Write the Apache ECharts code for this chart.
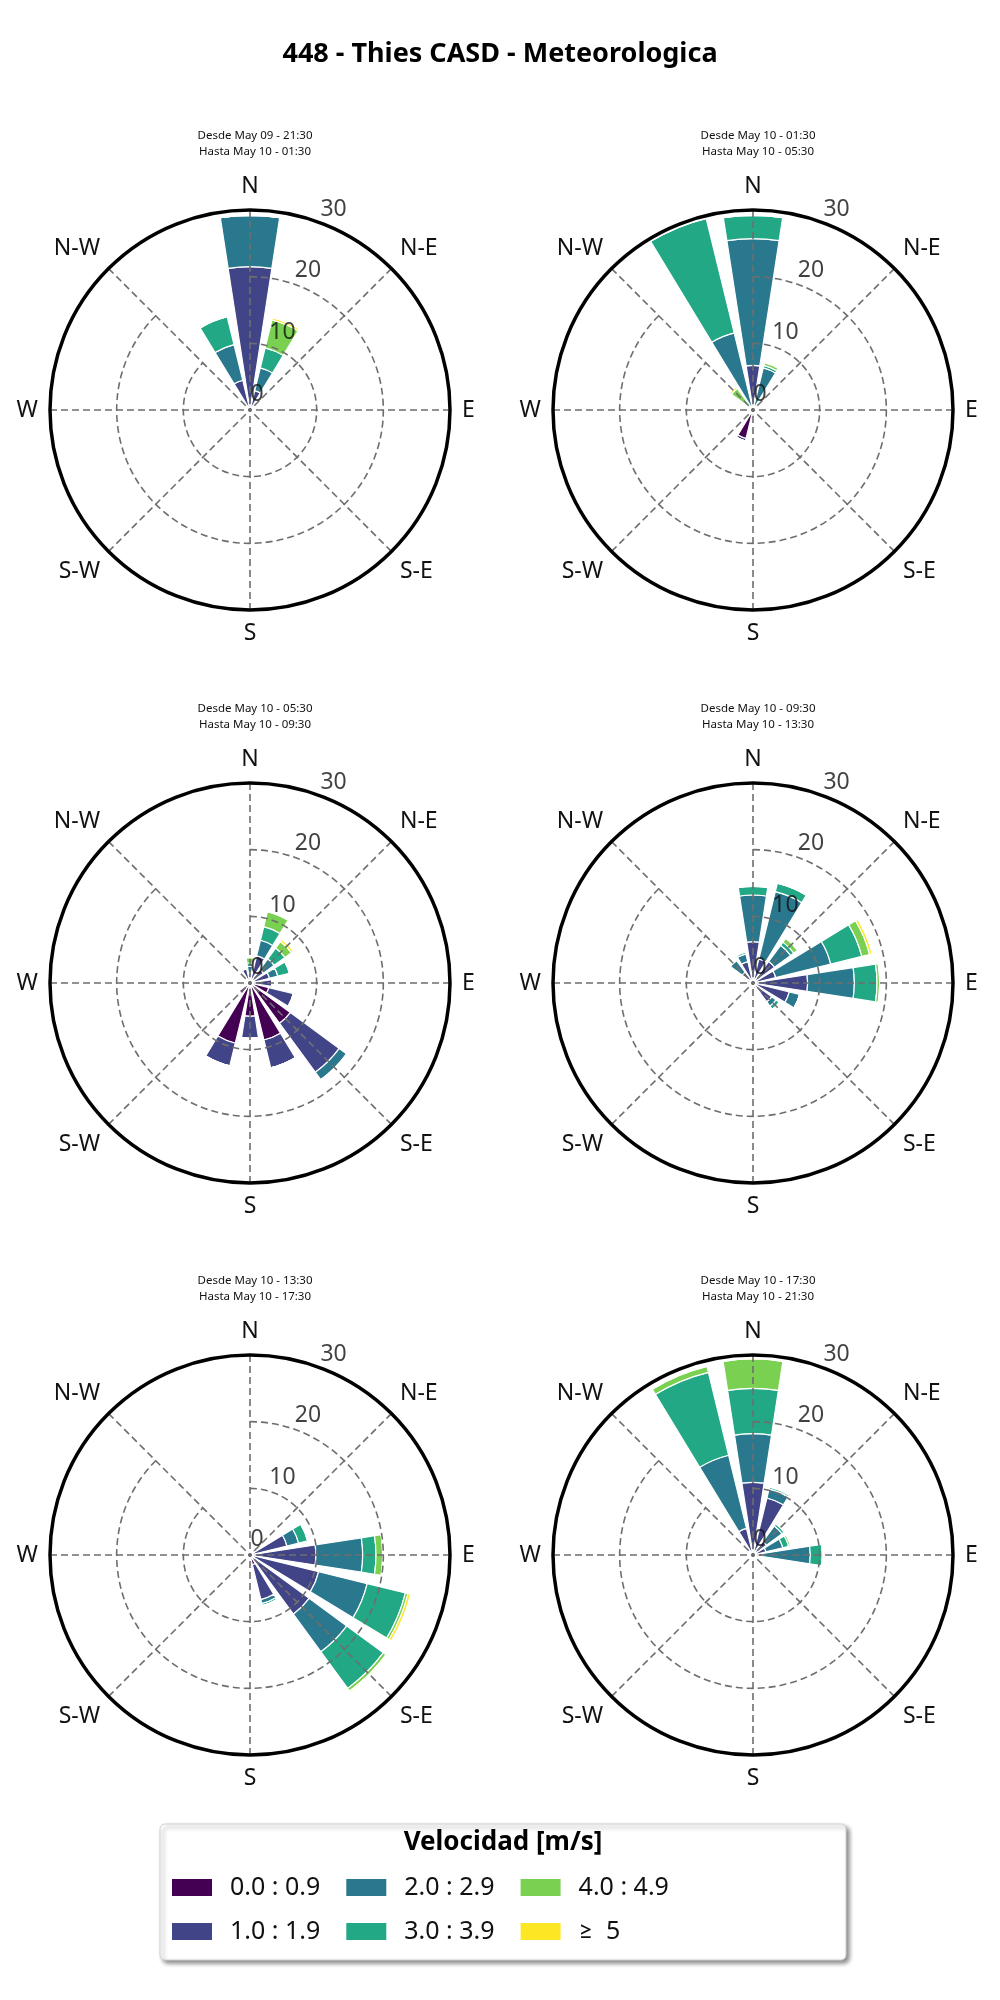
<!DOCTYPE html>
<html>
<head>
<meta charset="utf-8">
<script src="https://cdn.jsdelivr.net/npm/echarts@6/dist/echarts.min.js"></script>
<style>
  html, body { margin: 0; padding: 0; background: #fff; }
  #chart { width: 1000px; height: 2000px; }
</style>
</head>
<body>
<div id="chart"></div>
<script>
// direcciones (16 sectores) y rangos de velocidad
var dirs = ['N','NNE','NE','ENE','E','ESE','SE','SSE','S','SSW','SW','WSW','W','WNW','NW','NNW'];
var compass = ['N','N-E','E','S-E','S','S-W','W','N-W'];
var bins = ['0.0 : 0.9','1.0 : 1.9','2.0 : 2.9','3.0 : 3.9','4.0 : 4.9','\u2265  5'];
var binColors = ['#440154','#414487','#2a788e','#22a884','#7ad151','#fde725'];
var radiusTicks = [0, 10, 20, 30];

var subtitles = [
    'Desde May 09 - 21:30\nHasta May 10 - 01:30',
    'Desde May 10 - 01:30\nHasta May 10 - 05:30',
    'Desde May 10 - 05:30\nHasta May 10 - 09:30',
    'Desde May 10 - 09:30\nHasta May 10 - 13:30',
    'Desde May 10 - 13:30\nHasta May 10 - 17:30',
    'Desde May 10 - 17:30\nHasta May 10 - 21:30'
];

// frecuencia (%) por rango de velocidad, una fila por rango, 16 direcciones
//            N     NNE  NE   ENE  E    ESE  SE   SSE  S    SSW  SW   WSW  W    WNW  NW   NNW
var rose1 = [
    [0,    0,   0,   0,   0,   0,   0,   0,   0,   0,   0,   0,   0,   0,   0,   0],
    [21.5, 3,   0,   0,   0,   0,   0,   0,   0,   0,   0,   0,   0,   0,   0,   4.6],
    [7.7,  3.5, 0,   0,   0,   0,   0,   0,   0,   0,   0,   0,   0,   0,   0.4, 5.5],
    [0,    3.1, 0,   0,   0,   0,   0,   0,   0,   0,   0,   0,   0,   0,   0,   4.3],
    [0,    4.3, 0,   0,   0,   0,   0,   0,   0,   0,   0,   0,   0,   0,   0,   0],
    [0,    0.3, 0,   0,   0,   0,   0,   0,   0,   0,   0,   0,   0,   0,   0,   0]
];
var rose2 = [
    [0,    0,   0,   0,   0,   0,   0,   0,   1,   4.4, 0,   0,   0,   0,   0,   0],
    [6.7,  0.5, 0,   0,   0,   0,   0,   0,   0,   0.4, 0,   0,   0,   0,   0,   0],
    [19,   6,   0,   0,   0,   0,   0,   0,   0,   0,   0,   0,   0,   0,   0,   11.9],
    [3.5,  0.4, 0,   0,   0,   0,   0,   0,   0,   0,   0,   0,   0,   0,   0.5, 17.7],
    [0,    0.4, 0,   0,   0,   0,   0,   0,   0,   0,   0,   0,   0,   0,   3.5, 0],
    [0,    0,   0,   0,   0,   0,   0,   0,   0,   0,   0,   0,   0,   0,   0.3, 0]
];
var rose3 = [
    [0,    0,   0,   0,   0.5, 2.9, 7.5, 8.8, 5,   9.3, 2,   0,   0,   0,   0,   0],
    [1.5,  4.2, 2.5, 3,   2.8, 3.8, 9.1, 4.3, 3.3, 3.5, 0,   0,   0,   0,   0,   2.2],
    [1,    2.4, 2,   1.3, 0,   0,   1.4, 0,   0,   0,   0,   0,   0,   0,   0,   0],
    [0.5,  2.1, 2,   1.8, 0,   0,   0,   0,   0,   0,   0,   0,   0,   0,   0,   0],
    [0.8,  2.3, 1.2, 0,   0,   0,   0,   0,   0,   0,   0,   0,   0,   0,   0,   0],
    [0,    0,   0.4, 0,   0,   0,   0,   0,   0,   0,   0,   0,   0,   0,   0,   0]
];
var rose4 = [
    [0,    0,   0,   0,   0,   0,   0,   0,   0,   0,   0,   0,   0,   0,   0,   0],
    [6.2,  3.7, 4,   3.5, 8.2, 5.6, 3.5, 1,   0,   0,   0,   0,   0,   0,   2,   3.3],
    [7,    10.4,3,   8.5, 7,   1.6, 0.8, 0,   0,   0,   0,   0,   0,   1,   2.2, 1.2],
    [1.3,  1.3, 0.6, 4.8, 3.4, 0,   0.6, 0,   0,   0,   0,   0,   0,   0,   0,   0.3],
    [0,    0,   0.7, 1.2, 0.4, 0,   0,   0,   0,   0,   0,   0,   0,   0,   0,   0],
    [0,    0,   0,   0.4, 0,   0,   0,   0,   0,   0,   0,   0,   0,   0,   0,   0]
];
var rose5 = [
    [0,    0,   0,   0,   0,   0,   0,   1.5, 0,   0,   0,   0,   0,   0,   0,   0],
    [0,    0,   0.5, 5.7, 9.9, 10.6,11,  5.4, 0,   0,   0,   0,   0,   0,   0,   0],
    [0,    0,   0.5, 1.8, 7,   7.5, 7,   0.6, 0,   0,   0,   0,   0,   0,   0,   0],
    [0,    0,   0.3, 1.4, 2,   5.9, 6.8, 0.3, 0,   0,   0,   0,   0,   0,   0,   0],
    [0,    0,   0,   0,   1,   0.4, 0.5, 0,   0,   0,   0,   0,   0,   0,   0,   0],
    [0,    0,   0,   0,   0,   0.4, 0.2, 0,   0,   0,   0,   0,   0,   0,   0,   0]
];
var rose6 = [
    [0,    0,   0,   0,   0,   0,   0,   0,   0,   0,   0,   0,   0,   0,   0,   0],
    [10.9, 8.8, 2.5, 2,   1.5, 0,   0,   0,   0,   0,   0,   0,   0,   0,   0,   4.1],
    [7.3,  1.4, 2.9, 2.6, 7.1, 0,   0,   0,   0,   0,   0,   0,   0,   0,   0,   11.3],
    [6.8,  0.3, 0.4, 0.9, 1.8, 0,   0,   0,   0,   0,   0,   0,   0,   0,   0,   12.8],
    [4.4,  0,   0,   0.3, 0.2, 0,   0,   0,   0,   0,   0,   0,   0,   0,   0,   0.9],
    [0,    0,   0,   0,   0,   0,   0,   0,   0,   0,   0,   0,   0,   0,   0,   0]
];
var roses = [rose1, rose2, rose3, rose4, rose5, rose6];

var centers = [[250, 410], [753, 410], [250, 983], [753, 983], [250, 1555], [753, 1555]];
var R = 200;
var font = '"Noto Sans", Lato, sans-serif';

var chart = echarts.init(document.getElementById('chart'));

var polar = [], angleAxis = [], radiusAxis = [], series = [], titles = [];

titles.push({
    text: '448 - Thies CASD - Meteorologica',
    left: 'center', top: 36,
    textStyle: { fontFamily: font, fontSize: 27, fontWeight: 'bold', color: '#000' }
});

var dashed = { color: '#6e6e6e', width: 1.6, type: [7, 4] };

centers.forEach(function(c, k) {
    var base = k * 3;
    titles.push({
        text: subtitles[k],
        left: c[0], top: c[1] - 287, textAlign: 'center',
        textStyle: { fontFamily: font, fontSize: 11.5, fontWeight: 'normal', color: '#111', lineHeight: 16 }
    });
    // polar A: rejilla y rotulos de direccion, B: barras, C: borde y rotulos radiales
    for (var p = 0; p < 3; p++) {
        polar.push({ center: [c[0], c[1]], radius: R });
    }
    angleAxis.push({
        polarIndex: base, type: 'category', data: compass, boundaryGap: false,
        startAngle: 90, clockwise: true, z: 10,
        axisLine: { show: false },
        axisTick: { show: false },
        axisLabel: { margin: 12, fontFamily: font, fontSize: 23, color: '#111' },
        splitLine: { show: true, lineStyle: dashed }
    });
    radiusAxis.push({
        polarIndex: base, min: 0, max: 30, interval: 10, z: 10,
        axisLine: { show: false }, axisTick: { show: false }, axisLabel: { show: false },
        splitLine: { show: true, lineStyle: dashed }
    });
    angleAxis.push({
        polarIndex: base + 1, type: 'category', data: dirs, boundaryGap: true,
        startAngle: 90 + 11.25, clockwise: true,
        axisLine: { show: false }, axisTick: { show: false }, axisLabel: { show: false },
        splitLine: { show: false }
    });
    radiusAxis.push({
        polarIndex: base + 1, min: 0, max: 30, interval: 10,
        axisLine: { show: false }, axisTick: { show: false }, axisLabel: { show: false },
        splitLine: { show: false }
    });
    angleAxis.push({
        polarIndex: base + 2, type: 'value', min: 0, max: 360, interval: 90,
        startAngle: 90, clockwise: true, z: 11,
        axisLine: { show: true, lineStyle: { color: '#000', width: 3.5 } },
        axisTick: { show: false }, axisLabel: { show: false },
        splitLine: { show: false }
    });
    radiusAxis.push({
        polarIndex: base + 2, type: 'value', min: 0, max: 30, interval: 10,
        axisLine: { show: false }, axisTick: { show: false }, axisLabel: { show: false },
        splitLine: { show: false }
    });
    roses[k].forEach(function(vals, b) {
        series.push({
            type: 'bar', name: bins[b], coordinateSystem: 'polar', polarIndex: base + 1,
            stack: 'rose' + k, data: vals, barCategoryGap: '22%',
            itemStyle: { color: binColors[b], borderColor: '#fff', borderWidth: 1.2 },
            z: 2
        });
    });
    // rotulos radiales a lo largo de 22.5 grados
    series.push({
        type: 'scatter', coordinateSystem: 'polar', polarIndex: base + 2,
        symbolSize: 0, silent: true, z: 12,
        data: radiusTicks.map(function(r) { return [r, 22.5]; }),
        label: {
            show: true, position: 'inside', offset: [7, -16],
            formatter: function(p) { return String(p.value[0]); },
            fontFamily: font, fontSize: 23, color: '#111'
        }
    });
});

var legendText = { fontFamily: font, fontSize: 25, color: '#111', width: 115, padding: [0, 0, 0, 12] };

chart.setOption({
    animation: false,
    backgroundColor: '#fff',
    title: titles,
    polar: polar,
    angleAxis: angleAxis,
    radiusAxis: radiusAxis,
    legend: [{
        data: [bins[0], bins[2], bins[4]], left: 165, top: 1870,
        itemWidth: 42, itemHeight: 19, itemGap: 24, selectedMode: false,
        icon: 'rect', textStyle: legendText
    }, {
        data: [bins[1], bins[3], bins[5]], left: 165, top: 1914,
        itemWidth: 42, itemHeight: 19, itemGap: 24, selectedMode: false,
        icon: 'rect', textStyle: legendText
    }],
    graphic: [{
        type: 'rect', z: -1,
        shape: { x: 160, y: 1824, width: 686, height: 136, r: 5 },
        style: { fill: '#fff', stroke: '#d0d0d0', lineWidth: 1,
                 shadowBlur: 4, shadowOffsetX: 3, shadowOffsetY: 3, shadowColor: 'rgba(0,0,0,0.45)' }
    }, {
        type: 'text', z: 5, x: 503, y: 1830,
        style: { text: 'Velocidad [m/s]', font: 'bold 26px ' + font, fill: '#000', textAlign: 'center' }
    }],
    series: series
});
</script>
</body>
</html>
